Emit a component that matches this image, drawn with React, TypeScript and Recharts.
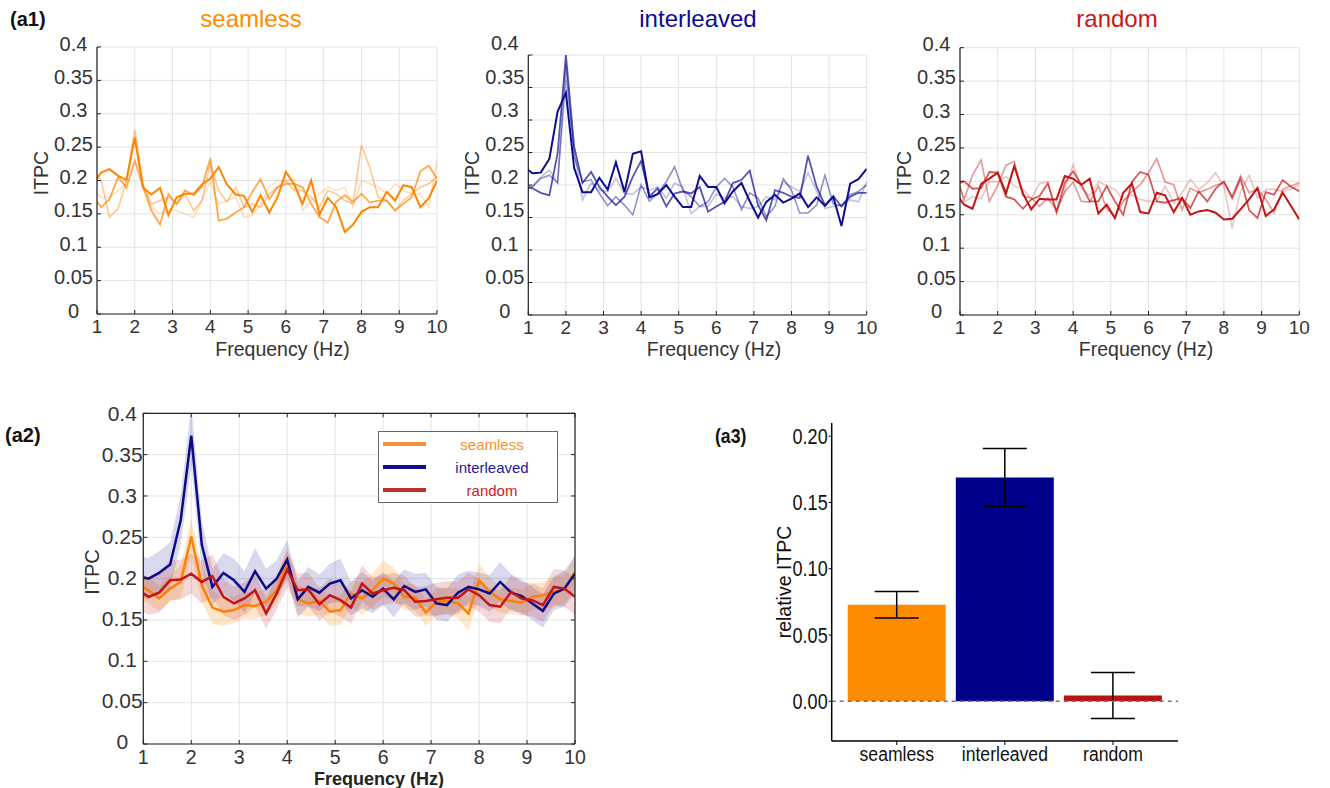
import React from "react";
import {
  LineChart, Line, XAxis, YAxis, CartesianGrid, ComposedChart, Area,
  BarChart, Bar, Cell, ErrorBar, ReferenceLine, Legend,
} from "recharts";

// frequency bins (Hz); the first bin sits just left of the axis and is clipped
const freqs = [
  0.89, 1.11, 1.33, 1.56, 1.78, 2.0, 2.22, 2.44, 2.67, 2.89, 3.11, 3.33, 3.56, 3.78,
  4.0, 4.22, 4.44, 4.67, 4.89, 5.11, 5.33, 5.56, 5.78, 6.0, 6.22, 6.44, 6.67, 6.89,
  7.11, 7.33, 7.56, 7.78, 8.0, 8.22, 8.44, 8.67, 8.89, 9.11, 9.33, 9.56, 9.78, 10.0,
];

// (a1) single runs, darkest first
const seamlessA = [0.194, 0.212, 0.217, 0.207, 0.201, 0.264, 0.189, 0.179, 0.189, 0.148, 0.175, 0.180, 0.180, 0.194, 0.203, 0.220, 0.194, 0.179, 0.177, 0.153, 0.178, 0.152, 0.175, 0.213, 0.194, 0.165, 0.200, 0.149, 0.174, 0.160, 0.123, 0.134, 0.153, 0.160, 0.160, 0.183, 0.170, 0.193, 0.190, 0.160, 0.173, 0.200];
const seamlessB = [0.177, 0.160, 0.172, 0.205, 0.189, 0.230, 0.190, 0.155, 0.134, 0.180, 0.165, 0.185, 0.178, 0.191, 0.233, 0.140, 0.143, 0.152, 0.160, 0.183, 0.202, 0.172, 0.190, 0.195, 0.195, 0.190, 0.165, 0.145, 0.137, 0.168, 0.178, 0.168, 0.180, 0.167, 0.170, 0.170, 0.155, 0.165, 0.175, 0.214, 0.222, 0.203];
const seamlessC = [0.215, 0.200, 0.145, 0.158, 0.200, 0.276, 0.195, 0.165, 0.170, 0.175, 0.165, 0.180, 0.155, 0.170, 0.225, 0.185, 0.168, 0.190, 0.160, 0.165, 0.160, 0.180, 0.190, 0.200, 0.185, 0.185, 0.175, 0.160, 0.185, 0.180, 0.170, 0.165, 0.253, 0.220, 0.175, 0.170, 0.155, 0.170, 0.180, 0.190, 0.195, 0.205];
const seamlessD = [0.185, 0.175, 0.175, 0.185, 0.195, 0.266, 0.190, 0.160, 0.150, 0.155, 0.155, 0.150, 0.145, 0.170, 0.200, 0.165, 0.170, 0.175, 0.145, 0.148, 0.165, 0.190, 0.200, 0.200, 0.203, 0.155, 0.170, 0.180, 0.190, 0.185, 0.190, 0.160, 0.200, 0.195, 0.190, 0.180, 0.195, 0.185, 0.180, 0.180, 0.160, 0.230];

const interleavedA = [0.228, 0.218, 0.219, 0.240, 0.313, 0.342, 0.226, 0.189, 0.189, 0.211, 0.193, 0.235, 0.189, 0.248, 0.252, 0.181, 0.186, 0.200, 0.182, 0.166, 0.166, 0.214, 0.197, 0.197, 0.172, 0.190, 0.203, 0.175, 0.150, 0.174, 0.185, 0.173, 0.179, 0.187, 0.166, 0.181, 0.168, 0.182, 0.137, 0.202, 0.209, 0.225];
const interleavedB = [0.197, 0.195, 0.188, 0.184, 0.249, 0.400, 0.259, 0.203, 0.220, 0.197, 0.182, 0.169, 0.182, 0.213, 0.237, 0.182, 0.195, 0.167, 0.187, 0.190, 0.187, 0.197, 0.159, 0.167, 0.174, 0.203, 0.208, 0.222, 0.169, 0.146, 0.192, 0.188, 0.182, 0.180, 0.245, 0.197, 0.169, 0.183, 0.167, 0.182, 0.188, 0.188];
const interleavedC = [0.197, 0.197, 0.210, 0.215, 0.203, 0.385, 0.244, 0.205, 0.208, 0.187, 0.168, 0.182, 0.169, 0.154, 0.200, 0.175, 0.187, 0.205, 0.228, 0.192, 0.182, 0.167, 0.174, 0.197, 0.210, 0.197, 0.162, 0.188, 0.180, 0.151, 0.167, 0.210, 0.192, 0.157, 0.157, 0.169, 0.215, 0.171, 0.168, 0.185, 0.190, 0.200];
const interleavedD = [0.197, 0.198, 0.212, 0.223, 0.204, 0.362, 0.251, 0.177, 0.203, 0.192, 0.190, 0.210, 0.187, 0.186, 0.197, 0.192, 0.197, 0.180, 0.203, 0.197, 0.156, 0.167, 0.167, 0.186, 0.180, 0.182, 0.167, 0.164, 0.167, 0.182, 0.177, 0.205, 0.197, 0.190, 0.219, 0.190, 0.164, 0.167, 0.169, 0.177, 0.174, 0.205];

const randomA = [0.182, 0.165, 0.159, 0.196, 0.204, 0.213, 0.182, 0.223, 0.182, 0.158, 0.174, 0.173, 0.173, 0.208, 0.204, 0.195, 0.204, 0.152, 0.165, 0.145, 0.183, 0.197, 0.154, 0.152, 0.183, 0.179, 0.154, 0.175, 0.150, 0.155, 0.157, 0.153, 0.143, 0.144, 0.158, 0.173, 0.190, 0.148, 0.158, 0.183, 0.163, 0.143];
const randomB = [0.195, 0.200, 0.189, 0.190, 0.214, 0.213, 0.177, 0.173, 0.159, 0.173, 0.178, 0.197, 0.154, 0.198, 0.215, 0.195, 0.170, 0.170, 0.193, 0.170, 0.150, 0.199, 0.214, 0.210, 0.170, 0.168, 0.172, 0.175, 0.160, 0.185, 0.170, 0.189, 0.200, 0.175, 0.204, 0.157, 0.145, 0.184, 0.180, 0.202, 0.192, 0.185];
const randomC = [0.208, 0.173, 0.209, 0.232, 0.170, 0.194, 0.224, 0.230, 0.178, 0.175, 0.163, 0.175, 0.157, 0.184, 0.199, 0.170, 0.169, 0.193, 0.159, 0.147, 0.170, 0.185, 0.195, 0.213, 0.234, 0.199, 0.195, 0.157, 0.190, 0.183, 0.188, 0.194, 0.198, 0.178, 0.208, 0.183, 0.188, 0.173, 0.153, 0.188, 0.193, 0.198];
const randomD = [0.217, 0.169, 0.177, 0.174, 0.200, 0.199, 0.207, 0.193, 0.188, 0.174, 0.197, 0.199, 0.153, 0.188, 0.225, 0.190, 0.178, 0.199, 0.194, 0.188, 0.172, 0.180, 0.173, 0.170, 0.170, 0.193, 0.168, 0.183, 0.203, 0.188, 0.198, 0.213, 0.193, 0.130, 0.185, 0.209, 0.175, 0.188, 0.188, 0.185, 0.188, 0.195];

// (a2) group means and the half-width of the shaded band
const meanSeamless = [0.193, 0.186, 0.176, 0.188, 0.196, 0.251, 0.192, 0.165, 0.160, 0.162, 0.168, 0.167, 0.172, 0.186, 0.219, 0.175, 0.170, 0.173, 0.160, 0.162, 0.182, 0.176, 0.186, 0.200, 0.194, 0.178, 0.177, 0.159, 0.172, 0.173, 0.170, 0.158, 0.198, 0.184, 0.175, 0.173, 0.171, 0.178, 0.180, 0.184, 0.187, 0.208];
const meanInterleaved = [0.203, 0.200, 0.207, 0.217, 0.271, 0.373, 0.241, 0.190, 0.207, 0.198, 0.184, 0.209, 0.188, 0.200, 0.223, 0.175, 0.190, 0.183, 0.194, 0.198, 0.176, 0.186, 0.178, 0.188, 0.175, 0.191, 0.184, 0.187, 0.170, 0.168, 0.183, 0.190, 0.187, 0.182, 0.196, 0.183, 0.179, 0.170, 0.161, 0.182, 0.188, 0.206];
const meanRandom = [0.186, 0.178, 0.183, 0.198, 0.199, 0.206, 0.196, 0.203, 0.178, 0.170, 0.176, 0.186, 0.158, 0.182, 0.211, 0.186, 0.187, 0.169, 0.180, 0.174, 0.165, 0.194, 0.182, 0.186, 0.189, 0.186, 0.172, 0.173, 0.175, 0.177, 0.177, 0.187, 0.180, 0.168, 0.166, 0.184, 0.176, 0.174, 0.168, 0.190, 0.188, 0.178];
const semSeamless = [0.016, 0.016, 0.016, 0.016, 0.02, 0.022, 0.02, 0.02, 0.017, 0.016, 0.016, 0.016, 0.016, 0.016, 0.018, 0.018, 0.016, 0.016, 0.017, 0.018, 0.016, 0.02, 0.02, 0.022, 0.02, 0.016, 0.016, 0.016, 0.016, 0.016, 0.018, 0.02, 0.02, 0.018, 0.016, 0.016, 0.016, 0.016, 0.016, 0.018, 0.018, 0.02];
const semInterleaved = [0.024, 0.025, 0.026, 0.027, 0.03, 0.036, 0.03, 0.022, 0.024, 0.026, 0.025, 0.028, 0.024, 0.022, 0.024, 0.022, 0.024, 0.022, 0.024, 0.026, 0.02, 0.022, 0.02, 0.02, 0.022, 0.02, 0.022, 0.02, 0.02, 0.02, 0.022, 0.02, 0.02, 0.022, 0.024, 0.022, 0.02, 0.02, 0.02, 0.02, 0.022, 0.022];
const semRandom = [0.022, 0.022, 0.024, 0.024, 0.024, 0.024, 0.026, 0.026, 0.022, 0.02, 0.02, 0.02, 0.018, 0.02, 0.022, 0.02, 0.02, 0.02, 0.02, 0.02, 0.02, 0.022, 0.02, 0.018, 0.018, 0.018, 0.018, 0.018, 0.02, 0.02, 0.02, 0.02, 0.02, 0.02, 0.02, 0.02, 0.02, 0.02, 0.02, 0.022, 0.022, 0.022];

// (a3)
const conditions = ["seamless", "interleaved", "random"];
const relItpc = [0.0728, 0.1688, 0.0043];
const relItpcSe = [0.010, 0.0219, 0.0174];

const freqTicks = [1, 2, 3, 4, 5, 6, 7, 8, 9, 10];
const itpcTicks = [0, 0.05, 0.1, 0.15, 0.2, 0.25, 0.3, 0.35, 0.4];
const relTicks = [0, 0.05, 0.1, 0.15, 0.2];

const FONT = "'Liberation Sans', Arial, Helvetica, sans-serif";
const TXT = "#333";
const ORANGE = "#ff8400";
const BLUE = "#0d0d8f";
const RED = "#c41414";
const NARROW_X = 0.84; // squeeze Liberation Sans into an Arial Narrow look

const rows = freqs.map((f, i) => ({
  f,
  sA: seamlessA[i], sB: seamlessB[i], sC: seamlessC[i], sD: seamlessD[i],
  iA: interleavedA[i], iB: interleavedB[i], iC: interleavedC[i], iD: interleavedD[i],
  rA: randomA[i], rB: randomB[i], rC: randomC[i], rD: randomD[i],
  mS: meanSeamless[i], mI: meanInterleaved[i], mR: meanRandom[i],
  bS: [meanSeamless[i] - semSeamless[i], meanSeamless[i] + semSeamless[i]],
  bI: [meanInterleaved[i] - semInterleaved[i], meanInterleaved[i] + semInterleaved[i]],
  bR: [meanRandom[i] - semRandom[i], meanRandom[i] + semRandom[i]],
}));

const bars = conditions.map((name, i) => ({ name, value: relItpc[i], err: relItpcSe[i] }));
const barColors = ["#ff8c00", "#00008b", "#c01010"];

// custom ticks: inward tick marks, labels centred under / beside the tick
const mkYTick = (off: number, dy: (v: number) => number, size: number) => (p: any) => (
  <g>
    <line x1={p.x} y1={p.y} x2={p.x + 4} y2={p.y} stroke="#222" />
    <text x={p.x - off} y={p.y + dy(p.payload.value)} textAnchor="middle" dominantBaseline="central"
      fontSize={size} fontFamily={FONT} fill={TXT}>{String(p.payload.value)}</text>
  </g>
);
const mkXTick = (dy: number, size: number) => (p: any) => (
  <g>
    <line x1={p.x} y1={p.y} x2={p.x} y2={p.y - 4} stroke="#222" />
    <text x={p.x} y={p.y + dy} textAnchor="middle" dominantBaseline="central"
      fontSize={size} fontFamily={FONT} fill={TXT}>{String(p.payload.value)}</text>
  </g>
);
const topTick = (p: any) => <line x1={p.x} y1={p.y} x2={p.x} y2={p.y + 4} stroke="#222" />;
const rightTick = (p: any) => <line x1={p.x} y1={p.y} x2={p.x - 4} y2={p.y} stroke="#222" />;

// narrow-looking ticks for the bar panel
const barYTick = (p: any) => (
  <text transform={`translate(${p.x},${p.y}) scale(${NARROW_X},1)`} textAnchor="end" dominantBaseline="central"
    fontSize={21.5} fontFamily={FONT} fill="#111">{Number(p.payload.value).toFixed(2)}</text>
);
const barXTick = (p: any) => (
  <text transform={`translate(${p.x},${p.y + 6.5}) scale(${NARROW_X},1)`} textAnchor="middle" dominantBaseline="central"
    fontSize={21} fontFamily={FONT} fill="#111">{p.payload.value}</text>
);

type LblProps = {
  x: number; y: number; size: number; color?: string; bold?: boolean;
  rotate?: boolean; narrow?: boolean; left?: boolean; children: React.ReactNode;
};
const Lbl = ({ x, y, size, color = TXT, bold, rotate, narrow, left, children }: LblProps) => (
  <div
    style={{
      position: "absolute", left: x, top: y,
      transformOrigin: left ? "left center" : "center",
      transform: `translate(${left ? "0" : "-50%"}, -50%)${rotate ? " rotate(-90deg)" : ""}${narrow ? ` scaleX(${NARROW_X})` : ""}`,
      fontSize: size, color, fontWeight: bold ? 700 : 400,
      fontFamily: FONT, whiteSpace: "nowrap", lineHeight: 1,
    }}
  >
    {children}
  </div>
);

const runStyles = [
  { op: 0.25, w: 1.6 },
  { op: 0.45, w: 1.6 },
  { op: 0.7, w: 1.8 },
  { op: 1, w: 2 },
];

type PanelProps = {
  left: number; width: number; top: number; right: number; yw: number; xh: number;
  keys: string[]; color: string; dy: (v: number) => number;
};

const RunPanel = ({ left, width, top, right, yw, xh, keys, color, dy }: PanelProps) => (
  <div style={{ position: "absolute", left, top: 0 }}>
    <LineChart width={width} height={370} data={rows} margin={{ top, right, bottom: 0, left: 0 }}>
      <CartesianGrid stroke="#e2e2e2" />
      <XAxis dataKey="f" type="number" domain={[1, 10]} ticks={freqTicks} interval={0} allowDataOverflow
        height={xh} tickSize={0} tickMargin={0} axisLine={{ stroke: "#222", strokeWidth: 1.2 }}
        tick={mkXTick(12.5, 19)} />
      <YAxis type="number" domain={[0, 0.4]} ticks={itpcTicks} interval={0} allowDataOverflow
        width={yw} tickSize={0} tickMargin={0} axisLine={{ stroke: "#222", strokeWidth: 1.2 }}
        tick={mkYTick(23.5, dy, 20)} />
      {keys.map((k, i) => (
        <Line key={k} type="linear" dataKey={k} stroke={color} strokeOpacity={runStyles[i].op}
          strokeWidth={runStyles[i].w} dot={false} isAnimationActive={false} />
      ))}
    </LineChart>
  </div>
);

const legendItems = [
  { label: "seamless", line: "#f39040", text: "#ff9020" },
  { label: "interleaved", line: "#10108c", text: "#1a1aa0" },
  { label: "random", line: "#c0302a", text: "#cc1a1a" },
];

const LegendBox = () => (
  <div style={{ width: 180, height: 72, boxSizing: "border-box", border: "1.5px solid #666", background: "#fff", position: "relative" }}>
    {legendItems.map((it, i) => (
      <div key={it.label} style={{ position: "absolute", left: 0, top: 12 + i * 23, width: "100%" }}>
        <div style={{ position: "absolute", left: 4, top: -2, width: 43, height: 4, background: it.line }} />
        <div style={{ position: "absolute", left: 113, top: 0, transform: "translate(-50%, -50%)", fontSize: 15,
          fontFamily: FONT, color: it.text, whiteSpace: "nowrap", lineHeight: 1 }}>{it.label}</div>
      </div>
    ))}
  </div>
);

export default function App() {
  return (
    <div style={{ position: "relative", width: 1330, height: 788, background: "#fff", fontFamily: FONT, overflow: "hidden" }}>
      <style>{"body{margin:0}"}</style>

      {/* (a1) */}
      <Lbl x={10} y={19} size={20} bold left color="#111">(a1)</Lbl>
      <Lbl x={251} y={19} size={24} color="#ff8a00">seamless</Lbl>
      <Lbl x={698} y={19} size={24} color="#0b0b96">interleaved</Lbl>
      <Lbl x={1117} y={19} size={24} color="#cc1616">random</Lbl>

      <RunPanel left={0} width={460} top={47} right={23} yw={97} xh={56}
        keys={["sD", "sC", "sB", "sA"]} color={ORANGE} dy={() => -3.5} />
      <RunPanel left={440} width={450} top={55} right={23.3} yw={88.3} xh={55}
        keys={["iD", "iC", "iB", "iA"]} color={BLUE} dy={(v) => -4.3 - 18.5 * v} />
      <RunPanel left={880} width={440} top={47.7} right={20.7} yw={80} xh={55}
        keys={["rD", "rC", "rB", "rA"]} color={RED} dy={() => -4} />

      <Lbl x={42} y={173} size={19.5} rotate>ITPC</Lbl>
      <Lbl x={473} y={173} size={19.5} rotate>ITPC</Lbl>
      <Lbl x={905} y={173} size={19.5} rotate>ITPC</Lbl>
      <Lbl x={282.5} y={350} size={19.5}>Frequency (Hz)</Lbl>
      <Lbl x={714} y={350} size={19.5}>Frequency (Hz)</Lbl>
      <Lbl x={1146} y={350} size={19.5}>Frequency (Hz)</Lbl>

      {/* (a2) */}
      <Lbl x={5} y={435} size={20} bold left color="#111">(a2)</Lbl>
      <div style={{ position: "absolute", left: 0, top: 380 }}>
        <ComposedChart width={600} height={408} data={rows} margin={{ top: 32.3, right: 24, bottom: 0, left: 0 }}>
          <CartesianGrid stroke="#e4e4e4" />
          <XAxis dataKey="f" type="number" domain={[1, 10]} ticks={freqTicks} interval={0} allowDataOverflow
            height={44} tickSize={0} tickMargin={0} axisLine={{ stroke: "#222", strokeWidth: 1.2 }}
            tick={mkXTick(12.5, 19.5)} />
          <XAxis xAxisId="top" orientation="top" dataKey="f" type="number" domain={[1, 10]} ticks={freqTicks}
            interval={0} allowDataOverflow height={1} tickSize={0} tickMargin={0}
            axisLine={{ stroke: "#222", strokeWidth: 1.2 }} tick={topTick} />
          <YAxis type="number" domain={[0, 0.4]} ticks={itpcTicks} interval={0} allowDataOverflow
            width={143.3} tickSize={0} tickMargin={0} axisLine={{ stroke: "#222", strokeWidth: 1.2 }}
            tick={mkYTick(21, (v) => -2.3 + 5.5 * v, 21)} />
          <YAxis yAxisId="right" orientation="right" type="number" domain={[0, 0.4]} ticks={itpcTicks}
            interval={0} allowDataOverflow width={1} tickSize={0} tickMargin={0}
            axisLine={{ stroke: "#222", strokeWidth: 1.2 }} tick={rightTick} />
          <Area type="linear" dataKey="bS" stroke="none" fill="#ffa028" fillOpacity={0.25} isAnimationActive={false} />
          <Area type="linear" dataKey="bI" stroke="none" fill="#3c3caa" fillOpacity={0.2} isAnimationActive={false} />
          <Area type="linear" dataKey="bR" stroke="none" fill="#c83c3c" fillOpacity={0.2} isAnimationActive={false} />
          <Line type="linear" dataKey="mS" stroke="#ff8000" strokeWidth={2.5} dot={false} isAnimationActive={false} />
          <Line type="linear" dataKey="mI" stroke="#0a0a8a" strokeWidth={2.5} dot={false} isAnimationActive={false} />
          <Line type="linear" dataKey="mR" stroke={RED} strokeWidth={2.5} dot={false} isAnimationActive={false} />
          <Legend layout="vertical" align="center" verticalAlign="middle"
            wrapperStyle={{ left: 378, top: 51, width: 180, height: 72 }} content={() => <LegendBox />} />
        </ComposedChart>
      </div>
      <Lbl x={92} y={572} size={20} rotate>ITPC</Lbl>
      <Lbl x={379} y={778.5} size={18} bold color="#222">Frequency (Hz)</Lbl>

      {/* (a3) */}
      <Lbl x={715} y={435} size={21} bold narrow left color="#111">(a3)</Lbl>
      <div style={{ position: "absolute", left: 700, top: 400 }}>
        <BarChart width={520} height={388} data={bars} margin={{ top: 23, right: 42, bottom: 7, left: 0 }}
          barCategoryGap={5}>
          <XAxis dataKey="name" height={40} padding={{ left: 11, right: 11 }} tickSize={4} tickMargin={2}
            axisLine={{ stroke: "#000", strokeWidth: 1.5 }} tickLine={{ stroke: "#000" }}
            tick={barXTick} interval={0} />
          <YAxis type="number" domain={[-0.03, 0.21]} ticks={relTicks} interval={0} allowDataOverflow
            width={131.7} tickSize={3} tickMargin={1}
            axisLine={{ stroke: "#000", strokeWidth: 1.5 }} tickLine={{ stroke: "#000" }}
            tick={barYTick} />
          <Bar dataKey="value" isAnimationActive={false}>
            {bars.map((b, i) => <Cell key={b.name} fill={barColors[i]} />)}
            <ErrorBar dataKey="err" width={22} stroke="#000" strokeWidth={1.5} direction="y" />
          </Bar>
          <ReferenceLine y={0} stroke="#777" strokeDasharray="4 4" strokeWidth={1.5} />
        </BarChart>
      </div>
      <Lbl x={785} y={582} size={19.5} rotate color="#111">relative ITPC</Lbl>
    </div>
  );
}
